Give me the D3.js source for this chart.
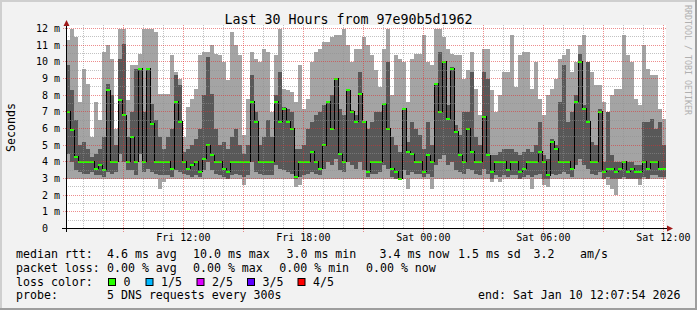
<!DOCTYPE html>
<html>
<head>
<meta charset="utf-8">
<script src="https://d3js.org/d3.v7.min.js"></script>
<style>
  body { margin: 0; background: #fff; }
  text { font-family: "DejaVu Sans Mono", monospace; }
</style>
</head>
<body>
<script>
// 150 bins of 12 minutes, Fri 06:07:54 -> Sat 12:07:54 (ms, 5 sorted pings: lo, q1, median, q3, hi)
var hi = [11.3,12,11.5,7.6,9.6,8.7,5.5,7.6,6.5,10.6,11.0,10.2,6.0,12,12,7.7,9.8,9.8,10.5,12,12,12,11.8,8.1,8.1,
  8.1,10.4,9.4,9.0,5.5,7.3,7.8,8.4,10.4,10.6,10.6,11.0,10.5,10.4,10.0,8.9,11.8,11.0,10.4,5.6,7.8,10.6,10.2,10.0,10.8,
  10.6,7.0,10.4,12.0,8.4,8.3,8.2,7.6,9.8,7.2,7.8,10.0,10.6,10.8,11.2,11.2,11.5,11.6,11.6,12.0,11.0,10.0,10.8,10.8,11.5,
  11.0,10.4,9.5,8.5,10.8,12.0,8.0,10.4,10.2,10.0,7.6,10.2,10.5,10.5,11.6,10.0,9.8,12.0,12.0,11.5,10.8,10.5,10.4,10.4,9.0,
  9.5,10.6,8.4,6.8,10.8,10.8,8.3,7.0,8.0,9.4,9.4,11.6,8.5,10.4,10.6,10.6,8.4,10.0,7.8,6.8,8.0,8.4,9.0,10.2,10.4,
  10.8,9.4,10.0,11.0,11.6,10.0,9.4,8.6,8.6,7.6,7.0,8.0,8.4,8.4,11.6,10.4,10.0,7.8,7.4,11.0,9.6,9.2,9.2,7.2,6.6];
var q3 = [9.8,8.3,6.5,5.0,5.2,4.8,4.3,4.5,4.8,5.5,8.7,8.0,5.0,10.2,11.1,5.5,7.0,9.6,9.6,7.0,9.6,7.5,6.5,5.5,4.8,
  5.5,6.0,9.2,8.6,4.6,4.8,5.0,5.4,6.0,8.0,10.3,8.1,6.0,5.0,5.2,4.8,5.5,6.0,5.0,4.5,5.0,9.2,7.0,5.0,5.5,
  6.5,5.5,8.0,9.4,7.3,7.2,7.0,4.8,4.8,5.0,6.0,6.4,6.8,7.0,7.4,7.6,8.0,9.0,7.2,6.8,8.3,7.1,6.8,9.4,6.4,
  6.0,6.4,7.0,7.0,7.5,10.0,5.5,5.0,4.6,7.2,5.2,6.4,6.0,5.6,4.8,6.4,5.0,8.7,10.6,10.0,7.4,9.7,6.2,5.6,7.0,
  7.0,9.4,5.5,5.0,9.4,9.0,4.4,4.4,4.6,4.8,4.8,4.8,4.6,4.4,4.6,4.8,4.6,5.0,6.4,4.4,4.2,5.4,5.0,7.6,9.8,
  6.4,7.0,8.0,10.5,7.4,10.0,5.2,5.0,7.2,4.0,7.0,4.4,4.0,4.0,4.0,4.0,4.0,3.8,3.8,6.4,6.4,6.6,6.0,6.4,5.0];
var med = [7.0,5.9,4.3,4.0,4.0,4.0,4.0,3.6,3.8,3.5,8.3,4.0,4.0,7.7,6.8,4.0,5.5,4.0,9.6,4.0,9.6,6.3,4.0,4.0,4.0,
  4.0,3.6,7.6,6.4,4.0,3.6,3.8,4.0,3.4,4.2,5.0,4.4,4.0,4.0,3.6,3.4,4.0,4.0,4.0,4.0,4.0,7.6,6.4,4.0,4.0,
  4.0,4.0,7.6,6.4,7.2,6.4,6.0,3.1,4.0,4.0,4.0,4.6,4.0,3.6,5.0,7.6,6.0,9.0,4.5,4.0,8.3,7.0,6.4,8.1,6.4,
  3.4,4.0,4.0,4.0,7.5,6.0,3.6,3.4,3.0,7.2,4.6,4.5,4.0,4.0,3.4,4.4,4.0,8.7,7.0,10.0,6.6,9.6,5.8,4.4,4.0,
  6.0,4.6,4.0,4.0,6.7,4.4,3.4,4.0,4.0,4.0,3.5,4.0,4.0,3.4,3.6,4.0,4.0,4.0,4.6,4.0,3.2,5.2,4.8,4.0,4.0,
  4.0,3.6,7.6,10.0,7.2,6.4,4.0,4.0,7.0,3.4,3.6,3.6,3.4,3.6,4.0,3.4,3.6,3.4,3.4,4.0,3.6,4.0,4.0,3.6,3.6];
var q1 = [4.5,4.0,3.5,3.4,3.3,3.3,3.4,3.2,3.2,3.1,3.4,3.3,3.4,4.5,4.0,3.5,3.5,3.2,4.5,3.4,3.6,3.4,3.3,3.2,3.2,
  3.2,3.1,3.5,3.4,3.3,3.2,3.1,3.2,3.1,3.5,4.0,3.5,3.3,3.2,3.1,3.0,3.2,3.3,3.2,3.1,3.2,4.0,3.4,3.3,3.2,
  3.2,3.2,3.8,3.6,3.5,3.4,3.3,3.0,3.1,3.2,3.3,3.4,3.3,3.2,3.6,4.0,3.8,4.2,3.5,3.4,4.0,3.8,3.6,4.0,3.5,
  3.1,3.3,3.3,3.4,3.8,3.6,3.1,3.0,3.0,3.5,3.2,3.4,3.3,3.3,3.1,3.3,3.1,3.8,4.2,4.4,3.8,4.0,3.5,3.4,3.3,
  3.6,3.5,3.3,3.2,3.6,3.3,3.0,3.2,3.1,3.2,3.1,3.2,3.2,3.0,3.1,3.2,3.1,3.2,3.3,3.0,3.0,3.3,3.2,3.3,3.4,
  3.3,3.1,3.8,4.2,3.8,3.6,3.3,3.2,3.4,3.0,3.1,3.0,3.0,3.0,3.1,3.0,3.0,3.0,3.0,3.1,3.0,3.2,3.2,3.1,3.1];
var lo = [3,3,3,3,3,3,3,3,3,3,3,3,3,3,3,3,3,3,3,3,3,3,3,2.4,2.8,
  3,3,3,3,3,3,3,3,3,3,3,3,3,3,3,3,3,3,3,2.6,3,3,3,3,3,
  3,3,3,3,3,3,3,2.5,2.6,3,3,3,3,3,3,3,3,3,3,3,3,3,3,3,3,
  3,3,3,3,3,3,3,3,2.9,3,2.4,3,3,3,3,3,2.4,3,3,3,3,3,3,3,3,
  3,3,3,3,3,3,2.8,3,2.8,3,3,3,3,3,3,3,2.4,3,3,2.6,2.5,3,3,3,3,
  3,3,3,3,3,3,3,3,3,3,2.6,2.4,2.0,3,3,3,3,3,2.6,3,3,3,3,3,3];

var yTickValues = [0,1,2,3,4,5,6,7,8,9,10,11,12];
var yTickLabels = ["0","1 m","2 m","3 m","4 m","5 m","6 m","7 m","8 m","9 m","10 m","11 m","12 m"];
var xTickLabels = ["Fri 12:00","Fri 18:00","Sat 00:00","Sat 06:00","Sat 12:00"];

var lossLabels = ["0","1/5","2/5","3/5","4/5"];
var lossColors = ["#26ff00","#00b8ff","#dd00ff","#5e00ff","#ff0000"];

var start = new Date(Date.UTC(2026,0,9,6,7,54)),
    end = new Date(Date.UTC(2026,0,10,12,7,54));
var binMin = 12;

var W = 697, H = 310;
var svg = d3.select("body").append("svg").attr("width", W).attr("height", H);

// background with rrdtool-like shading
svg.append("rect").attr("width", W).attr("height", H).attr("fill", "#f2f2f2");
svg.append("rect").attr("x", 0).attr("y", 0).attr("width", W).attr("height", 2).attr("fill", "#cfcfcf");
svg.append("rect").attr("x", 0).attr("y", 0).attr("width", 2).attr("height", H).attr("fill", "#cfcfcf");
svg.append("rect").attr("x", 0).attr("y", H-2).attr("width", W).attr("height", 2).attr("fill", "#9e9e9e");
svg.append("rect").attr("x", W-2).attr("y", 0).attr("width", 2).attr("height", H).attr("fill", "#9e9e9e");

var x = d3.scaleTime().domain([start, end]).range([66, 666]);
var y = d3.scaleLinear().domain([0, 12]).range([228.5, 28.5]).clamp(true);

svg.append("rect").attr("x", 66).attr("y", 25).attr("width", 600).attr("height", 204).attr("fill", "#fff");

var bins = med.map(function(d, i) {
  return {
    t0: new Date(+start + i*binMin*60000),
    t1: new Date(+start + (i+1)*binMin*60000),
    lo: lo[i], q1: q1[i], med: d, q3: q3[i], hi: hi[i]
  };
});

var plot = svg.append("g");

// outer smoke (ping 1..5)
plot.selectAll("rect.outer").data(bins).enter().append("rect")
  .attr("x", function(d) { return x(d.t0); })
  .attr("width", function(d) { return x(d.t1) - x(d.t0); })
  .attr("y", function(d) { return y(d.hi); })
  .attr("height", function(d) { return y(d.lo) - y(d.hi); })
  .attr("fill", "#a4a4a4").attr("shape-rendering", "crispEdges");

// inner smoke (ping 2..4)
plot.selectAll("rect.inner").data(bins).enter().append("rect")
  .attr("x", function(d) { return x(d.t0); })
  .attr("width", function(d) { return x(d.t1) - x(d.t0); })
  .attr("y", function(d) { return y(d.q3); })
  .attr("height", function(d) { return y(d.q1) - y(d.q3); })
  .attr("fill", "#585858").attr("shape-rendering", "crispEdges");

// median step line
var stepPts = bins.map(function(d) { return [x(d.t0), y(d.med)]; });
stepPts.push([x(end), y(med[med.length-1])]);
plot.append("path")
  .attr("d", d3.line().curve(d3.curveStepAfter)(stepPts))
  .attr("fill", "none").attr("stroke", "#000").attr("stroke-width", 1)
  .attr("shape-rendering", "crispEdges");

// median markers, coloured by loss (all zero here)
plot.selectAll("rect.med").data(bins).enter().append("rect")
  .attr("x", function(d) { return x(d.t0); })
  .attr("width", function(d) { return x(d.t1) - x(d.t0); })
  .attr("y", function(d) { return y(d.med) - 1; })
  .attr("height", 2)
  .attr("fill", lossColors[0]).attr("shape-rendering", "crispEdges");

// grid (drawn over the data, like rrdtool)
var grid = svg.append("g").attr("shape-rendering", "crispEdges");
var minorY = d3.range(0.5, 12.01, 1);
grid.selectAll("line.ymin").data(minorY).enter().append("line")
  .attr("x1", 66).attr("x2", 666)
  .attr("y1", function(d) { return Math.round(y(d) - 0.5) + 0.5; })
  .attr("y2", function(d) { return Math.round(y(d) - 0.5) + 0.5; })
  .attr("stroke", "#8f8f8f").attr("stroke-opacity", 0.55).attr("stroke-dasharray", "1,1");
var hours = d3.utcHour.range(start, end);
grid.selectAll("line.xmin").data(hours.filter(function(h) { return h.getUTCHours() % 3 != 0; })).enter().append("line")
  .attr("x1", function(d) { return Math.round(x(d)) + 0.5; })
  .attr("x2", function(d) { return Math.round(x(d)) + 0.5; })
  .attr("y1", 25).attr("y2", 228)
  .attr("stroke", "#8f8f8f").attr("stroke-opacity", 0.55).attr("stroke-dasharray", "1,1");
grid.selectAll("line.ymaj").data(yTickValues.slice(1)).enter().append("line")
  .attr("x1", 63).attr("x2", 666)
  .attr("y1", function(d) { return Math.round(y(d) - 0.5) + 0.5; })
  .attr("y2", function(d) { return Math.round(y(d) - 0.5) + 0.5; })
  .attr("stroke", "#de3030").attr("stroke-opacity", 0.55).attr("stroke-dasharray", "1,1");
grid.selectAll("line.xmaj").data(hours.filter(function(h) { return h.getUTCHours() % 3 == 0; })).enter().append("line")
  .attr("x1", function(d) { return Math.round(x(d)) + 0.5; })
  .attr("x2", function(d) { return Math.round(x(d)) + 0.5; })
  .attr("y1", 25).attr("y2", 232)
  .attr("stroke", "#de3030").attr("stroke-opacity", 0.55).attr("stroke-dasharray", "1,1");

// axes
svg.append("line").attr("x1", 62).attr("x2", 668).attr("y1", 228.5).attr("y2", 228.5)
  .attr("stroke", "#000").attr("shape-rendering", "crispEdges");
svg.append("line").attr("x1", 66.5).attr("x2", 66.5).attr("y1", 232).attr("y2", 23)
  .attr("stroke", "#000").attr("shape-rendering", "crispEdges");
svg.append("path").attr("d", "M667,225.5L673,228.5L667,231.5Z").attr("fill", "#a01818");
svg.append("path").attr("d", "M63.5,26L66.5,20L69.5,26Z").attr("fill", "#a01818");

// y labels
svg.selectAll("text.ylab").data(yTickValues).enter().append("text")
  .attr("x", function(d, i) { return yTickLabels[i].indexOf(" ") < 0 ? 48 : 60; })
  .attr("y", function(d) { return y(d); })
  .attr("dy", "0.36em").attr("text-anchor", "end")
  .attr("font-size", "10px").attr("fill", "#000")
  .text(function(d, i) { return yTickLabels[i]; });

// x labels
var labTimes = d3.utcHour.every(6).range(start, new Date(+end + 1));
svg.selectAll("text.xlab").data(labTimes).enter().append("text")
  .attr("x", function(d) { return x(d); })
  .attr("y", 241).attr("text-anchor", "middle")
  .attr("font-size", "10px").attr("fill", "#000")
  .text(function(d, i) { return xTickLabels[i]; });

// title, axis title, watermark
svg.append("text").attr("x", 348.5).attr("y", 24).attr("text-anchor", "middle")
  .attr("font-size", "13.3px").attr("fill", "#000").text("Last 30 Hours from 97e90b5d1962");
svg.append("text").attr("transform", "translate(15,127.5) rotate(-90)").attr("text-anchor", "middle")
  .attr("font-size", "11.6px").attr("fill", "#000").text("Seconds");
svg.append("text").attr("transform", "translate(685,5) rotate(90)")
  .attr("font-size", "8.3px").attr("fill", "#b0b0b0").text("RRDTOOL / TOBI OETIKER");

// legend
var lg = svg.append("g").attr("font-size", "11.6px").attr("fill", "#000");
function lt(xp, yp, s) { lg.append("text").attr("x", xp).attr("y", yp).text(s); }
lt(16, 258, "median rtt:");
lt(107, 258, "4.6 ms avg");
lt(193, 258, "10.0 ms max");
lt(286.5, 258, "3.0 ms min");
lt(379.5, 258, "3.4 ms now");
lt(458, 258, "1.5 ms sd");
lt(533.5, 258, "3.2");
lt(580, 258, "am/s");
lt(16, 271.7, "packet loss:");
lt(107, 271.7, "0.00 % avg");
lt(193, 271.7, "0.00 % max");
lt(279.3, 271.7, "0.00 % min");
lt(366, 271.7, "0.00 % now");
lt(16, 285.5, "loss color:");
var boxX = [108.5, 146, 197, 247.5, 298];
lossLabels.forEach(function(l, i) {
  lg.append("rect").attr("x", boxX[i]).attr("y", 278.5).attr("width", 7).attr("height", 7)
    .attr("fill", lossColors[i]).attr("stroke", "#000").attr("stroke-width", 1);
  lt(boxX[i] + 15, 285.5, l);
});
lt(16, 299.3, "probe:");
lt(107, 299.3, "5 DNS requests every 300s");
lt(478, 299.3, "end: Sat Jan 10 12:07:54 2026");
</script>
</body>
</html>
